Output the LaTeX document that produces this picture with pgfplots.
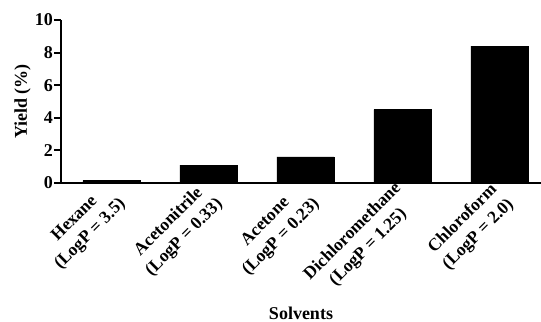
\documentclass[border=0pt]{standalone}
\usepackage{fontspec}
\setmainfont{Liberation Serif}
\usepackage{pgfplots}
\pgfplotsset{compat=1.18}
\begin{document}
\begin{tikzpicture}
\begin{axis}[
  scale only axis,
  width=480pt, height=163pt,
  xmin=-0.52, xmax=4.43,
  ymin=0, ymax=10,
  ytick={0,2,4,6,8,10},
  xtick={0,1,2,3,4},
  xticklabels={{Hexane\\(LogP = 3.5)},{Acetonitrile\\(LogP = 0.33)},{Acetone\\(LogP = 0.23)},{Dichloromethane\\(LogP = 1.25)},{Chloroform\\(LogP = 2.0)}},
  x tick label style={xshift=4pt, yshift=-4pt, rotate=45, anchor=east, align=center, font=\fontsize{17.5}{22}\bfseries, inner sep=0pt},
  y tick label style={font=\fontsize{18}{18}\bfseries, inner sep=1pt},
  /pgf/number format/assume math mode=true,
  axis lines*=left,
  axis line style={line width=2pt},
  major tick length=7pt,
  y tick style={line width=2pt, black},
  tick align=outside,
  x tick style={draw=none},
  ylabel={Yield (\%)},
  xlabel={Solvents},
  label style={font=\fontsize{18}{18}\bfseries},
  ylabel style={at={(axis description cs:-0.08,0.5)}, anchor=center},
  xlabel style={at={(axis description cs:0.5,-0.8)}, anchor=center},
  ybar, bar width=57pt,
  clip=false,
]
\addplot[fill=black, draw=black] coordinates {(0,0.15) (1,1.1) (2,1.6) (3,4.5) (4,8.4)};
\end{axis}
\pgfresetboundingbox
\path[use as bounding box] ([xshift=-61pt,yshift=-139pt]current axis.south west) rectangle ([yshift=20pt]current axis.north east);
\end{tikzpicture}
\end{document}
